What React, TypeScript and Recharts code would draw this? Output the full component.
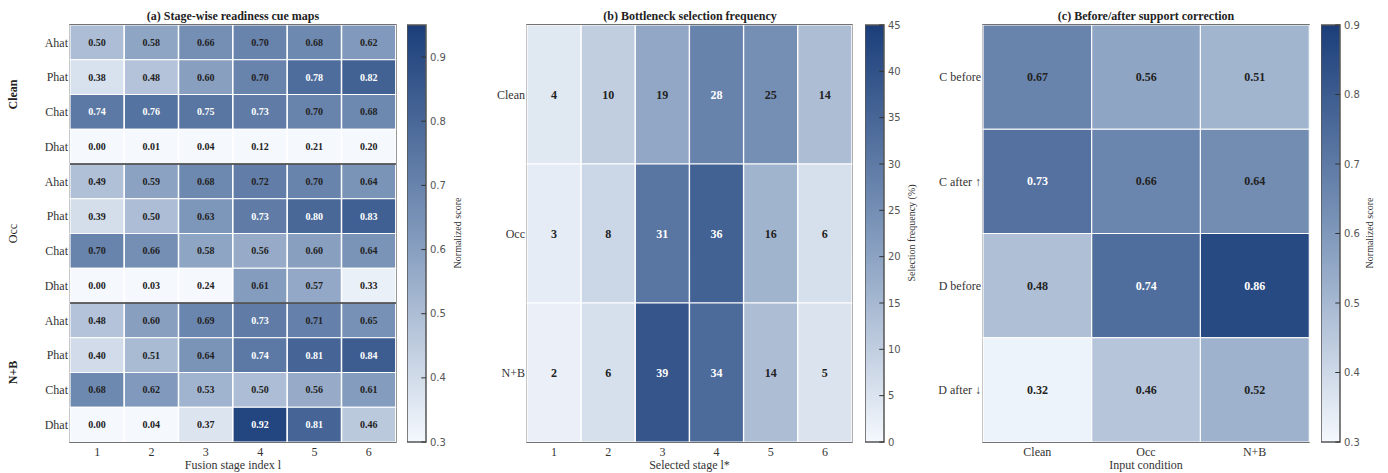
import React from 'react';
import { BarChart, Bar, Cell, XAxis, YAxis, LabelList, ReferenceArea, ReferenceLine, ComposedChart } from 'recharts';

const SERIF = '"Liberation Serif", "Times New Roman", serif';
const SANS = '"DejaVu Sans", sans-serif';
const H = 473;

// (a) readiness cue maps, rows = cues, columns = fusion stages
const STAGES = ['1', '2', '3', '4', '5', '6'];
const CUES = ['Ahat', 'Phat', 'Chat', 'Dhat'];
const CONDITIONS = ['Clean', 'Occ', 'N+B'];

const cleanCues = [
    [0.50, 0.58, 0.66, 0.70, 0.68, 0.62],
    [0.38, 0.48, 0.60, 0.70, 0.78, 0.82],
    [0.74, 0.76, 0.75, 0.73, 0.70, 0.68],
    [0.00, 0.01, 0.04, 0.12, 0.21, 0.20],
];
const occCues = [
    [0.49, 0.59, 0.68, 0.72, 0.70, 0.64],
    [0.39, 0.50, 0.63, 0.73, 0.80, 0.83],
    [0.70, 0.66, 0.58, 0.56, 0.60, 0.64],
    [0.00, 0.03, 0.24, 0.61, 0.57, 0.33],
];
const nbCues = [
    [0.48, 0.60, 0.69, 0.73, 0.71, 0.65],
    [0.40, 0.51, 0.64, 0.74, 0.81, 0.84],
    [0.68, 0.62, 0.53, 0.50, 0.56, 0.61],
    [0.00, 0.04, 0.37, 0.92, 0.81, 0.46],
];

// (b) bottleneck selection frequency (%)
const bottleneckFreq = [
    [4, 10, 19, 28, 25, 14],
    [3, 8, 31, 36, 16, 6],
    [2, 6, 39, 34, 14, 5],
];

// (c) before/after support correction
const correctionRows = ['C before', 'C after \u2191', 'D before', 'D after \u2193'];
const correctionValues = [
    [0.67, 0.56, 0.51],
    [0.73, 0.66, 0.64],
    [0.48, 0.74, 0.86],
    [0.32, 0.46, 0.52],
];

const scoreTicks = [0.3, 0.4, 0.5, 0.6, 0.7, 0.8, 0.9];
const freqTicks = [0, 5, 10, 15, 20, 25, 30, 35, 40, 45];

const STOPS = [
    [245, 249, 254],
    [127, 152, 187],
    [27, 62, 122],
];

function cmap(v: number, vmin: number, vmax: number) {
    const t = Math.max(0, Math.min(1, (v - vmin) / (vmax - vmin)));
    const s = t * (STOPS.length - 1);
    const i = Math.min(STOPS.length - 2, Math.floor(s));
    const f = s - i;
    const c = STOPS[i].map((a, k) => Math.round(a + (STOPS[i + 1][k] - a) * f));
    return `rgb(${c[0]},${c[1]},${c[2]})`;
}

type HeatmapProps = {
    left: number;
    width: number;
    yWidth: number;
    rows: string[];
    cols: string[];
    values: number[][];
    vmin: number;
    vmax: number;
    whiteAbove: number;
    fmt: (v: number) => string;
    labelSize: number;
    xLabel: string;
    groups?: { labels: string[]; size: number; bold: boolean[]; width: number };
};

function Heatmap({ left, width, yWidth, rows, cols, values, vmin, vmax, whiteAbove, fmt, labelSize, xLabel, groups }: HeatmapProps) {
    const data = cols.map((c, j) => {
        const d: any = { name: c };
        rows.forEach((_, i) => {
            d[`r${i}`] = 1;
            d[`v${i}`] = values[i][j];
        });
        return d;
    });
    const n = rows.length;

    const cellLabel = (i: number) => (p: any) => {
        const vb = p.viewBox || {};
        const x = p.x ?? vb.x;
        const y = p.y ?? vb.y;
        const w = p.width ?? vb.width;
        const h = p.height ?? vb.height;
        const v = typeof p.value === 'number' ? p.value : values[i][p.index];
        return (
            <text
                x={x + w / 2}
                y={y + h / 2}
                textAnchor="middle"
                dominantBaseline="central"
                fontFamily={SERIF}
                fontWeight="bold"
                fontSize={labelSize}
                fill={v > whiteAbove ? '#ffffff' : '#222'}
            >
                {fmt(v)}
            </text>
        );
    };

    const separators = groups ? groups.labels.slice(1).map((_, g) => (g + 1) * groups.size) : [];

    return (
        <div style={{ position: 'absolute', left, top: 0 }}>
            <BarChart
                width={width}
                height={H}
                data={data}
                margin={{ top: 25, right: 4, bottom: 0, left: 0 }}
                barCategoryGap={0}
                barGap={0}
            >
                <XAxis
                    dataKey="name"
                    height={31}
                    axisLine={false}
                    tickLine={false}
                    tickSize={3}
                    interval={0}
                    tick={{ fontFamily: SERIF, fontSize: 12, fill: '#333' }}
                    label={{ value: xLabel, position: 'insideBottom', offset: 4, fill: '#333', fontSize: 12, fontFamily: SERIF }}
                />
                <YAxis
                    type="number"
                    domain={[0, n]}
                    reversed
                    allowDataOverflow
                    ticks={rows.map((_, i) => i + 0.5)}
                    tickFormatter={(v: number) => rows[Math.floor(v)]}
                    width={yWidth}
                    axisLine={false}
                    tickLine={false}
                    tickSize={0}
                    tickMargin={2}
                    interval={0}
                    tick={{ fontFamily: SERIF, fontSize: 12, fill: '#333' }}
                />
                {groups && (
                    <YAxis
                        yAxisId="grp"
                        type="number"
                        domain={[0, n]}
                        reversed
                        allowDataOverflow
                        ticks={groups.labels.map((_, g) => g * groups.size + groups.size / 2)}
                        width={groups.width}
                        axisLine={false}
                        tickLine={false}
                        tickSize={0}
                        tickMargin={0}
                        interval={0}
                        tick={(p: any) => {
                            const g = Math.floor(p.payload.value / groups.size);
                            return (
                                <text
                                    transform={`translate(${p.x - 25},${p.y}) rotate(-90)`}
                                    textAnchor="middle"
                                    dominantBaseline="central"
                                    fontFamily={SERIF}
                                    fontSize={12}
                                    fontWeight={groups.bold[g] ? 'bold' : 'normal'}
                                    fill="#222"
                                >
                                    {groups.labels[g]}
                                </text>
                            );
                        }}
                    />
                )}
                {rows.map((_, i) => (
                    <Bar key={i} dataKey={`r${i}`} stackId="cells" stroke="#ffffff" strokeWidth={1.2} isAnimationActive={false}>
                        {data.map((_, j) => (
                            <Cell key={j} fill={cmap(values[i][j], vmin, vmax)} />
                        ))}
                        <LabelList dataKey={`v${i}`} content={cellLabel(i)} />
                    </Bar>
                ))}
                {separators.map((s) => (
                    <ReferenceLine key={s} y={s} stroke="#333" strokeWidth={1.5} />
                ))}
                <ReferenceArea y1={0} y2={n} fill="none" stroke="#444" strokeWidth={1.5} ifOverflow="visible" />
            </BarChart>
        </div>
    );
}

function Colorbar({ left, id, vmin, vmax, ticks }: { left: number; id: string; vmin: number; vmax: number; ticks: number[] }) {
    return (
        <div style={{ position: 'absolute', left, top: 0 }}>
            <ComposedChart width={50} height={H} data={[{ x: 0 }]} margin={{ top: 25, right: 0, bottom: 31, left: 0 }}>
                <defs>
                    <linearGradient id={id} x1="0" y1="1" x2="0" y2="0">
                        {STOPS.map((c, k) => (
                            <stop key={k} offset={k / (STOPS.length - 1)} stopColor={`rgb(${c[0]},${c[1]},${c[2]})`} />
                        ))}
                    </linearGradient>
                </defs>
                <XAxis dataKey="x" type="number" domain={[0, 1]} hide />
                <YAxis
                    orientation="right"
                    type="number"
                    domain={[vmin, vmax]}
                    allowDataOverflow
                    ticks={ticks}
                    width={31}
                    axisLine={false}
                    tickLine={false}
                    tickSize={0}
                    tickMargin={4}
                    interval={0}
                    tick={{ fontFamily: SANS, fontSize: 10, fill: '#555' }}
                />
                <ReferenceArea y1={vmin} y2={vmax} fill={`url(#${id})`} fillOpacity={1} stroke="#555" strokeWidth={1.5} ifOverflow="visible" />
                {ticks.map((t) => (
                    <ReferenceLine key={t} segment={[{ x: 0.75, y: t }, { x: 1, y: t }]} stroke="#333" strokeWidth={1} />
                ))}
            </ComposedChart>
        </div>
    );
}

const titleStyle = (cx: number): React.CSSProperties => ({
    position: 'absolute',
    left: cx,
    top: 9,
    transform: 'translateX(-50%)',
    whiteSpace: 'nowrap',
    fontFamily: SERIF,
    fontWeight: 'bold',
    fontSize: 12,
    lineHeight: '14px',
    color: '#222',
});

const cbLabelStyle = (cx: number): React.CSSProperties => ({
    position: 'absolute',
    left: cx,
    top: 233,
    transform: 'translate(-50%, -50%) rotate(-90deg)',
    whiteSpace: 'nowrap',
    fontFamily: SERIF,
    fontSize: 10,
    lineHeight: '12px',
    color: '#333',
});

export default function App() {
    const allCues = [...cleanCues, ...occCues, ...nbCues];
    const cueRows = [...CUES, ...CUES, ...CUES];

    return (
        <div style={{ position: 'relative', width: 1388, height: H, background: '#fff', overflow: 'hidden' }}>
            <style>{'body{margin:0}'}</style>

            <div style={titleStyle(233)}>(a) Stage-wise readiness cue maps</div>
            <Heatmap
                left={0}
                width={400}
                yWidth={32}
                rows={cueRows}
                cols={STAGES}
                values={allCues}
                vmin={0.3}
                vmax={0.95}
                whiteAbove={0.725}
                fmt={(v) => v.toFixed(2)}
                labelSize={10}
                xLabel="Fusion stage index l"
                groups={{ labels: CONDITIONS, size: 4, bold: [true, false, true], width: 38 }}
            />
            <Colorbar left={407} id="cbA" vmin={0.3} vmax={0.95} ticks={scoreTicks} />
            <div style={cbLabelStyle(458)}>Normalized score</div>

            <div style={titleStyle(690)}>(b) Bottleneck selection frequency</div>
            <Heatmap
                left={480}
                width={376}
                yWidth={47}
                rows={CONDITIONS}
                cols={STAGES}
                values={bottleneckFreq}
                vmin={0}
                vmax={45}
                whiteAbove={26}
                fmt={(v) => String(Math.round(v))}
                labelSize={12}
                xLabel="Selected stage l*"
            />
            <Colorbar left={865} id="cbB" vmin={0} vmax={45} ticks={freqTicks} />
            <div style={cbLabelStyle(912)}>Selection frequency (%)</div>

            <div style={titleStyle(1146)}>(c) Before/after support correction</div>
            <Heatmap
                left={920}
                width={393}
                yWidth={63}
                rows={correctionRows}
                cols={CONDITIONS}
                values={correctionValues}
                vmin={0.3}
                vmax={0.9}
                whiteAbove={0.7}
                fmt={(v) => v.toFixed(2)}
                labelSize={12}
                xLabel="Input condition"
            />
            <Colorbar left={1321} id="cbC" vmin={0.3} vmax={0.9} ticks={scoreTicks} />
            <div style={cbLabelStyle(1370)}>Normalized score</div>
        </div>
    );
}
